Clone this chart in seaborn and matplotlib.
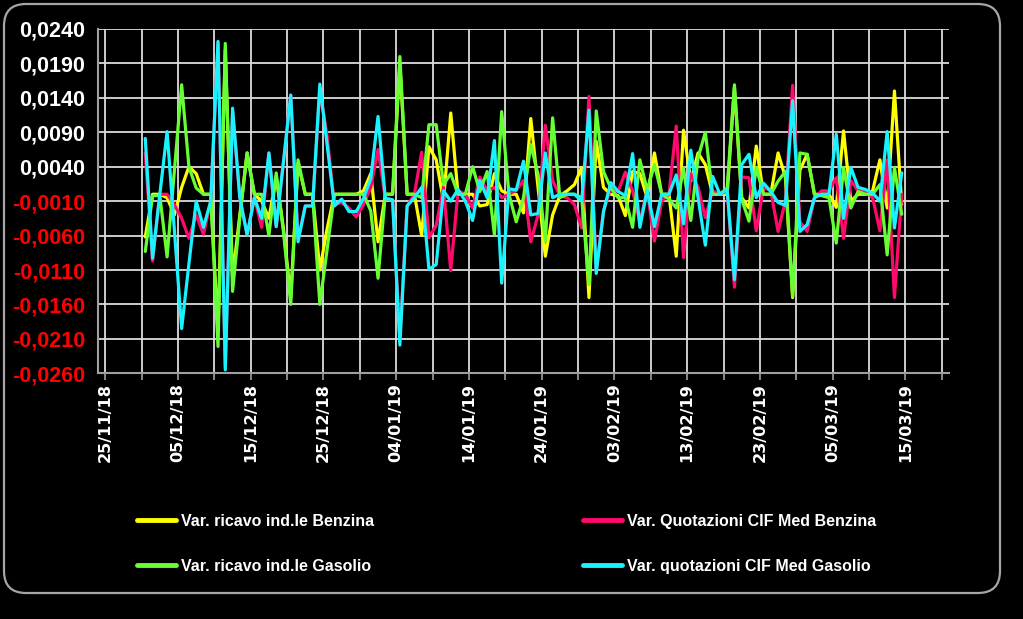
import pandas as pd
import matplotlib
matplotlib.use('Agg')
import matplotlib.pyplot as plt
import matplotlib.dates as mdates
import matplotlib.ticker as mticker
from matplotlib.patches import FancyBboxPatch
from matplotlib.transforms import IdentityTransform
import seaborn as sns

# --- dati ---
giorni = pd.date_range('2018-11-30', '2019-03-14', freq='D')

ricavo_benzina = [
    -0.0062, 0.0000, 0.0000, -0.0005, -0.0030, 0.0010, 0.0040, 0.0030, 0.0000, 0.0000,
    -0.0200, 0.0210, -0.0120, -0.0030, 0.0060, 0.0000, -0.0010, -0.0035, 0.0025, -0.0050,
    -0.0150, 0.0045, 0.0000, 0.0000, -0.0110, -0.0050, 0.0000, 0.0000, 0.0000, 0.0000,
    0.0005, 0.0030, -0.0069, 0.0000, 0.0000, 0.0190, 0.0000, 0.0000, -0.0060, 0.0069,
    0.0050, -0.0010, 0.0118, 0.0000, 0.0000, 0.0000, -0.0017, -0.0015, 0.0030, 0.0005,
    0.0000, 0.0000, -0.0027, 0.0110, 0.0010, -0.0090, -0.0030, -0.0002, 0.0005, 0.0014,
    0.0039, -0.0150, 0.0077, 0.0010, 0.0000, -0.0002, -0.0031, 0.0033, 0.0030, -0.0005,
    0.0060, 0.0000, 0.0000, -0.0090, 0.0093, 0.0019, 0.0060, 0.0043, 0.0000, 0.0000,
    0.0000, 0.0155, -0.0005, -0.0020, 0.0070, 0.0000, 0.0000, 0.0060, 0.0025, -0.0150,
    0.0035, 0.0058, 0.0000, 0.0000, 0.0000, -0.0019, 0.0092, -0.0010, 0.0000, 0.0000,
    0.0005, 0.0050, -0.0020, 0.0150, -0.0015,
]
quot_benzina = [
    0.0060, -0.0097, 0.0000, 0.0000, -0.0015, -0.0035, -0.0064, -0.0030, -0.0058, -0.0010,
    0.0220, -0.0250, 0.0120, -0.0005, -0.0059, -0.0005, -0.0048, 0.0060, -0.0047, 0.0047,
    0.0144, -0.0065, -0.0017, -0.0017, 0.0150, 0.0085, -0.0015, -0.0012, -0.0020, -0.0033,
    -0.0015, 0.0010, 0.0065, -0.0006, -0.0008, -0.0210, -0.0017, 0.0000, 0.0061, -0.0063,
    -0.0045, 0.0010, -0.0111, 0.0005, 0.0000, -0.0020, 0.0025, 0.0005, 0.0010, -0.0005,
    0.0000, 0.0006, 0.0020, -0.0069, -0.0030, 0.0100, 0.0020, -0.0002, -0.0005, -0.0015,
    -0.0049, 0.0142, -0.0110, -0.0025, 0.0010, 0.0004, 0.0032, 0.0005, -0.0040, 0.0006,
    -0.0068, -0.0010, 0.0000, 0.0099, -0.0092, 0.0030, 0.0010, -0.0034, 0.0005, 0.0000,
    0.0005, -0.0135, 0.0025, 0.0024, -0.0053, 0.0010, 0.0005, -0.0054, -0.0010, 0.0158,
    -0.0040, -0.0054, -0.0005, 0.0005, 0.0005, 0.0024, -0.0064, 0.0020, 0.0005, 0.0005,
    -0.0005, -0.0053, 0.0050, -0.0150, 0.0000,
]
ricavo_gasolio = [
    -0.0083, -0.0002, -0.0002, -0.0091, 0.0034, 0.0159, 0.0040, 0.0009, 0.0000, 0.0000,
    -0.0221, 0.0219, -0.0141, -0.0034, 0.0060, 0.0000, 0.0000, -0.0060, 0.0031, -0.0055,
    -0.0160, 0.0050, 0.0000, 0.0000, -0.0160, -0.0080, 0.0000, 0.0000, 0.0000, 0.0000,
    0.0000, -0.0024, -0.0122, 0.0000, 0.0000, 0.0200, 0.0000, 0.0000, -0.0005, 0.0101,
    0.0101, 0.0014, 0.0030, 0.0000, 0.0000, 0.0040, 0.0004, 0.0033, -0.0059, 0.0120,
    0.0000, -0.0040, -0.0005, 0.0072, 0.0029, -0.0068, 0.0111, -0.0005, 0.0000, 0.0000,
    -0.0005, -0.0131, 0.0121, 0.0033, 0.0009, -0.0005, -0.0005, -0.0048, 0.0050, 0.0006,
    0.0043, 0.0000, -0.0007, -0.0020, 0.0038, -0.0038, 0.0053, 0.0090, 0.0000, 0.0000,
    0.0009, 0.0159, -0.0007, -0.0039, 0.0039, 0.0000, 0.0000, 0.0019, 0.0033, -0.0148,
    0.0060, 0.0058, 0.0000, -0.0002, -0.0005, -0.0071, 0.0039, -0.0020, 0.0004, 0.0000,
    0.0000, 0.0014, -0.0088, 0.0039, -0.0029,
]
quot_gasolio = [
    0.0081, -0.0093, 0.0000, 0.0091, -0.0052, -0.0195, -0.0101, -0.0010, -0.0048, -0.0010,
    0.0222, -0.0255, 0.0125, -0.0005, -0.0059, -0.0005, -0.0035, 0.0060, -0.0047, 0.0047,
    0.0144, -0.0069, -0.0017, -0.0017, 0.0160, 0.0072, -0.0017, -0.0007, -0.0025, -0.0025,
    -0.0006, 0.0023, 0.0113, -0.0006, -0.0008, -0.0219, -0.0017, -0.0005, 0.0010, -0.0109,
    -0.0102, 0.0005, -0.0010, 0.0007, -0.0010, -0.0038, 0.0020, -0.0005, 0.0078, -0.0129,
    0.0008, 0.0006, 0.0048, -0.0030, -0.0028, 0.0060, -0.0005, 0.0000, 0.0000, 0.0000,
    -0.0010, 0.0122, -0.0115, -0.0025, 0.0017, 0.0004, -0.0002, 0.0059, -0.0048, 0.0006,
    -0.0047, 0.0000, 0.0000, 0.0028, -0.0043, 0.0064, -0.0005, -0.0074, 0.0026, 0.0000,
    0.0007, -0.0124, 0.0043, 0.0058, -0.0005, 0.0016, 0.0004, -0.0012, -0.0016, 0.0136,
    -0.0054, -0.0044, -0.0005, 0.0000, 0.0000, 0.0087, -0.0035, 0.0039, 0.0010, 0.0007,
    0.0002, -0.0010, 0.0091, -0.0049, 0.0031,
]

serie = ['Var. ricavo ind.le Benzina', 'Var. Quotazioni CIF Med Benzina',
         'Var. ricavo ind.le Gasolio', 'Var. quotazioni CIF Med Gasolio']
colori = ['#ffff00', '#ff0a6c', '#66ff33', '#19f2ff']

y_ticks = [-0.026, -0.021, -0.016, -0.011, -0.006, -0.001, 0.004, 0.009, 0.014, 0.019, 0.024]
y_labels = ['-0,0260', '-0,0210', '-0,0160', '-0,0110', '-0,0060', '-0,0010',
            '0,0040', '0,0090', '0,0140', '0,0190', '0,0240']

# --- tabella lunga per seaborn ---
valori = [ricavo_benzina, quot_benzina, ricavo_gasolio, quot_gasolio]
df = pd.concat([
    pd.DataFrame({'data': giorni + pd.Timedelta(hours=12), 'valore': v, 'serie': n})
    for n, v in zip(serie, valori)
], ignore_index=True)

sns.set_theme(style='dark', rc={'axes.facecolor': 'black', 'figure.facecolor': 'black'})
plt.rcParams['font.family'] = ['Liberation Sans', 'DejaVu Sans']

fig = plt.figure(figsize=(10.23, 6.19), dpi=100, facecolor='black')
ax = fig.add_axes([98 / 1023, 1 - 373.3 / 619, 851 / 1023, 344.3 / 619])
ax.set_facecolor('black')

sns.lineplot(data=df, x='data', y='valore', hue='serie', hue_order=serie,
             palette=colori, linewidth=2.3, ax=ax, estimator=None)

# --- assi ---
ax.set_xlim(pd.Timestamp('2018-11-24'), pd.Timestamp('2019-03-21'))
ax.set_ylim(-0.026, 0.024)
ax.set_xlabel('')
ax.set_ylabel('')

major = pd.date_range('2018-11-25', '2019-03-15', freq='10D')
minor = pd.date_range('2018-11-30', '2019-03-20', freq='10D')
ax.xaxis.set_major_locator(mticker.FixedLocator(mdates.date2num(major)))
ax.xaxis.set_minor_locator(mticker.FixedLocator(mdates.date2num(minor)))
ax.xaxis.set_major_formatter(mdates.DateFormatter('%d/%m/%y'))

ax.yaxis.set_major_locator(mticker.FixedLocator(y_ticks))
ax.yaxis.set_major_formatter(mticker.FixedFormatter(y_labels))

ax.grid(True, which='both', color='#dcdcdc', linewidth=1.3)
ax.set_axisbelow(True)

ax.tick_params(axis='x', which='both', direction='out', length=5, width=1.2,
               color='#a0a0a0', bottom=True, pad=2)
ax.tick_params(axis='x', which='major', labelrotation=90, labelsize=11.6, labelcolor='white')
ax.tick_params(axis='y', length=0, pad=9, labelsize=15.5)
for lab in ax.get_xticklabels():
    lab.set_fontfamily('DejaVu Sans')
    lab.set_fontweight('bold')
for lab, v in zip(ax.get_yticklabels(), y_ticks):
    lab.set_fontweight('bold')
    lab.set_color('white' if v > 0 else '#ff0000')

for side in ['top', 'right']:
    ax.spines[side].set_visible(False)
for side in ['left', 'bottom']:
    ax.spines[side].set_color('#a0a0a0')
    ax.spines[side].set_linewidth(1.5)

# --- leggenda in due colonne separate ---
handles, labels = ax.get_legend_handles_labels()
ax.get_legend().remove()
font_leg = {'family': ['Liberation Sans Narrow', 'Liberation Sans'], 'weight': 'bold', 'size': 11.5}
for idx, x0 in [((0, 2), 137), ((1, 3), 583)]:
    leg = fig.legend([handles[i] for i in idx], [labels[i] for i in idx],
                     loc='upper left', bbox_to_anchor=(x0 / 1023, 1 - 514 / 619),
                     frameon=False, handlelength=2.45, handletextpad=0.3,
                     labelspacing=1.87, borderpad=0, borderaxespad=0, prop=font_leg)
    for t in leg.get_texts():
        t.set_color('white')
    for ln in leg.get_lines():
        ln.set_linewidth(3.5)

# --- cornice arrotondata ---
cornice = FancyBboxPatch((4, 619 - 593), 996, 589, boxstyle='round,pad=0,rounding_size=22',
                         transform=IdentityTransform(), fill=False,
                         edgecolor='#a6a6a6', linewidth=1.6)
fig.add_artist(cornice)

fig.savefig('out.png', dpi=100, facecolor='black')
